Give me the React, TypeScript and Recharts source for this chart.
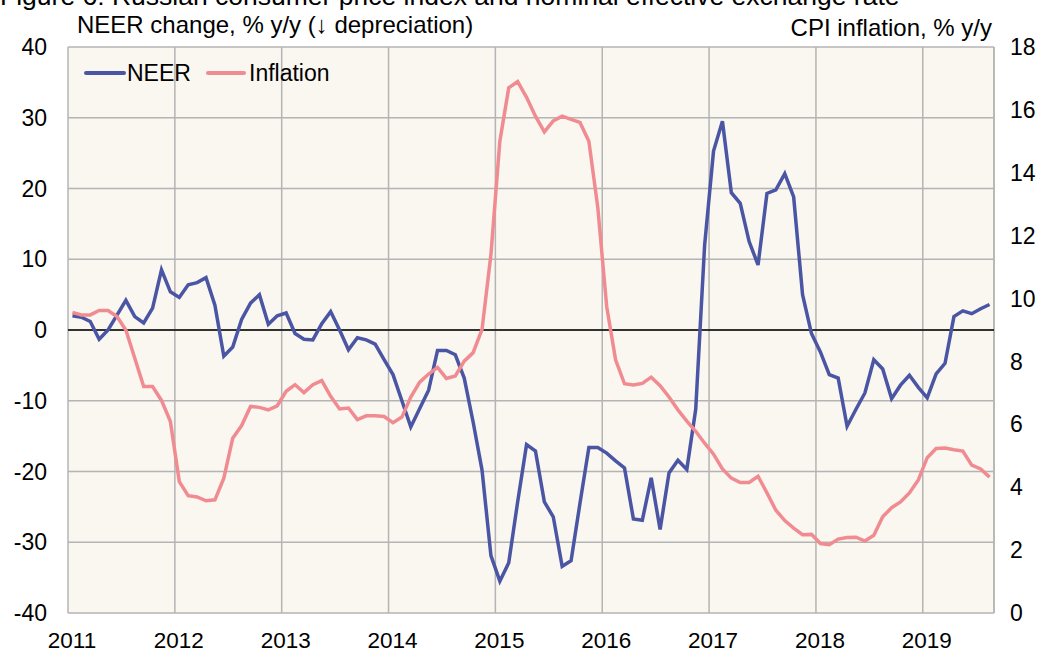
import { LineChart, Line, XAxis, YAxis, CartesianGrid, ReferenceLine } from "recharts";

const FONT = "'Liberation Sans', Arial, sans-serif";

// monthly, Jan 2011 .. Aug 2019
const years = ["2011", "2012", "2013", "2014", "2015", "2016", "2017", "2018", "2019"];

const neer = [
  2.0, 1.8, 1.2, -1.3, 0.0, 2.1, 4.2, 1.9, 1.0, 3.1, 8.5, 5.4,
  4.6, 6.4, 6.7, 7.4, 3.5, -3.7, -2.4, 1.5, 3.8, 5.0, 0.8, 2.0,
  2.4, -0.5, -1.3, -1.4, 0.9, 2.6, 0.0, -2.8, -1.1, -1.4, -2.0, -4.2,
  -6.3, -10.0, -13.7, -11.1, -8.5, -2.9, -2.9, -3.5, -6.8, -13.0, -19.8, -31.9,
  -35.5, -32.9, -24.3, -16.2, -17.1, -24.3, -26.4, -33.4, -32.6, -24.5, -16.6, -16.6,
  -17.4, -18.5, -19.5, -26.7, -26.9, -20.9, -28.2, -20.2, -18.4, -19.7, -11.2, 12.0,
  25.3, 29.5, 19.4, 17.9, 12.5, 9.2, 19.3, 19.8, 22.1, 18.8, 5.0, -0.5,
  -3.1, -6.3, -6.8, -13.6, -11.2, -8.9, -4.2, -5.5, -9.7, -7.8, -6.4, -8.1,
  -9.6, -6.2, -4.7, 1.9, 2.7, 2.3, 3.0, 3.6,
];

const inflation = [
  9.56, 9.48, 9.48, 9.62, 9.62, 9.43, 9.0, 8.1, 7.2, 7.2, 6.76, 6.09,
  4.18, 3.73, 3.69, 3.57, 3.6, 4.29, 5.56, 5.96, 6.57, 6.54, 6.46, 6.59,
  7.05, 7.26, 7.01, 7.26, 7.39, 6.89, 6.49, 6.52, 6.15, 6.27, 6.27, 6.25,
  6.05, 6.23, 6.87, 7.34, 7.6, 7.81, 7.46, 7.54, 8.01, 8.28, 9.02, 11.4,
  15.0, 16.7, 16.9, 16.4, 15.8, 15.3, 15.65, 15.8, 15.7, 15.6, 15.0, 12.9,
  9.75, 8.05, 7.29, 7.25, 7.3, 7.5, 7.23, 6.87, 6.46, 6.1, 5.78, 5.4,
  5.05, 4.58, 4.29, 4.15, 4.15, 4.35, 3.82, 3.27, 2.94, 2.7, 2.49, 2.5,
  2.21, 2.17, 2.35, 2.4, 2.41, 2.29, 2.47, 3.06, 3.35, 3.53, 3.82, 4.23,
  4.94, 5.23, 5.25, 5.19, 5.15, 4.7, 4.58, 4.32,
];

const leftTicks = [-40, -30, -20, -10, 0, 10, 20, 30, 40];
const rightTicks = [0, 2, 4, 6, 8, 10, 12, 14, 16, 18];
const yearTicks = years.map((_, i) => i * 12);

const series = [
  { key: "neer", name: "NEER", color: "#4a55a4" },
  { key: "inflation", name: "Inflation", color: "#f08c91" },
];

const data = neer.map((v, i) => ({ t: i + 0.5, neer: v, inflation: inflation[i] }));

const YearTick = ({ x, y, payload }: any) => (
  <text x={x + 4} y={y + 17} dy="0.71em" textAnchor="middle" fontFamily={FONT} fontSize={22.5} fill="#000">
    {years[Math.round(payload.value / 12)]}
  </text>
);

export default function App() {
  return (
    <div style={{ position: "absolute", left: 0, top: 0, width: 1044, height: 653, background: "#fff", overflow: "hidden" }}>
      <LineChart width={1044} height={653} data={data} margin={{ top: 47, right: 0, bottom: 0, left: 0 }}>
        <CartesianGrid yAxisId="left" stroke="#b4b4b4" strokeWidth={1.5} fill="#faf6f0" fillOpacity={1} />
        <XAxis
          dataKey="t"
          type="number"
          domain={[0, 104]}
          ticks={yearTicks}
          interval={0}
          height={40}
          axisLine={false}
          tickLine={false}
          tickSize={0}
          tick={<YearTick />}
        />
        <YAxis
          yAxisId="left"
          domain={[-40, 40]}
          ticks={leftTicks}
          interval={0}
          width={68}
          axisLine={false}
          tickLine={false}
          tickSize={0}
          tickMargin={21}
          tick={{ fontFamily: FONT, fontSize: 23, fill: "#000" }}
        />
        <YAxis
          yAxisId="right"
          orientation="right"
          domain={[0, 18]}
          ticks={rightTicks}
          interval={0}
          width={50}
          axisLine={false}
          tickLine={false}
          tickSize={0}
          tickMargin={16}
          tick={{ fontFamily: FONT, fontSize: 23, fill: "#000" }}
        />
        <ReferenceLine yAxisId="left" x={104} stroke="#b4b4b4" strokeWidth={1.5} />
        <ReferenceLine yAxisId="left" y={0} stroke="#000" strokeWidth={1.5} />
        <Line
          yAxisId="left"
          dataKey="neer"
          name="NEER"
          stroke={series[0].color}
          strokeWidth={3.5}
          dot={false}
          isAnimationActive={false}
        />
        <Line
          yAxisId="right"
          dataKey="inflation"
          name="Inflation"
          stroke={series[1].color}
          strokeWidth={3.5}
          dot={false}
          isAnimationActive={false}
        />
      </LineChart>
      <svg width={1044} height={653} style={{ position: "absolute", left: 0, top: 0, pointerEvents: "none" }} fontFamily={FONT} fill="#000">
        <text x={0} y={5} fontSize={26.5}>
          Figure 6: Russian consumer price index and nominal effective exchange rate
        </text>
        <text x={77} y={33} fontSize={24}>NEER change, % y/y (↓ depreciation)</text>
        <text x={992} y={36} fontSize={24} textAnchor="end">CPI inflation, % y/y</text>
        <g>
          <line x1={86} y1={73} x2={124} y2={73} stroke={series[0].color} strokeWidth={4} strokeLinecap="round" />
          <text x={127} y={81} fontSize={23}>{series[0].name}</text>
          <line x1={208} y1={73} x2={244} y2={73} stroke={series[1].color} strokeWidth={4} strokeLinecap="round" />
          <text x={249} y={81} fontSize={23}>{series[1].name}</text>
        </g>
      </svg>
    </div>
  );
}
